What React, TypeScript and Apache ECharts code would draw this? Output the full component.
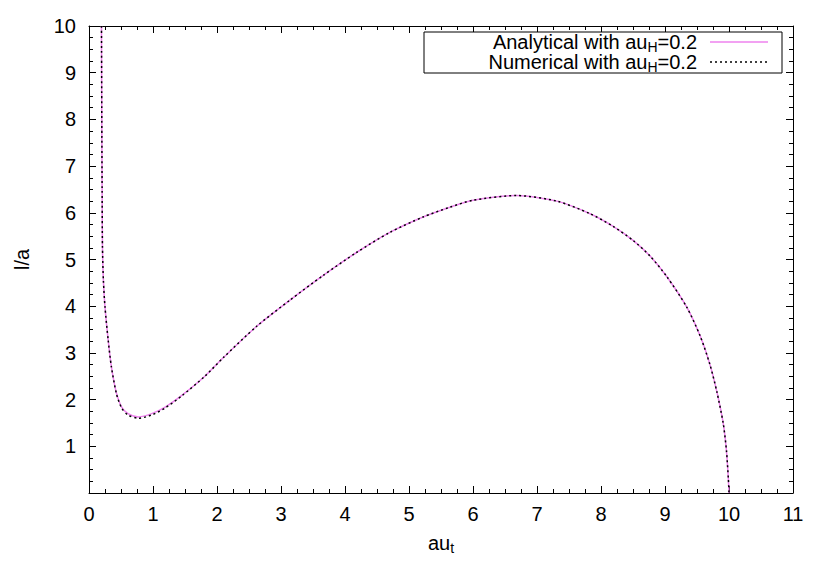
import React, { useEffect, useRef } from "react";
import * as echarts from "echarts";

const xTickLabels = ["0", "1", "2", "3", "4", "5", "6", "7", "8", "9", "10", "11"];
const yTickLabels = ["", "1", "2", "3", "4", "5", "6", "7", "8", "9", "10"];

const analyticalX = [0.195, 0.2, 0.205, 0.21, 0.225, 0.25, 0.3, 0.35, 0.43, 0.51, 0.61, 0.77, 0.98, 1.19, 1.45, 1.81, 2.1, 2.62, 3.14, 3.66, 4.18, 4.7, 5.22, 5.64, 6.0, 6.68, 7.31, 7.83, 8.19, 8.5, 8.77, 9.03, 9.34, 9.55, 9.7, 9.81, 9.91, 9.96, 9.99, 10.0];
const analyticalY = [10.0, 8.0, 6.5, 5.3, 4.55, 3.98, 3.27, 2.7, 2.13, 1.84, 1.7, 1.63, 1.7, 1.84, 2.09, 2.5, 2.9, 3.57, 4.13, 4.66, 5.15, 5.58, 5.91, 6.12, 6.27, 6.37, 6.25, 5.98, 5.71, 5.41, 5.07, 4.63, 3.98, 3.36, 2.76, 2.17, 1.49, 0.91, 0.3, 0.0];

const numericalX = [0.195, 0.2, 0.205, 0.21, 0.225, 0.25, 0.3, 0.35, 0.43, 0.51, 0.61, 0.77, 0.98, 1.19, 1.45, 1.81, 2.1, 2.62, 3.14, 3.66, 4.18, 4.7, 5.22, 5.64, 6.0, 6.68, 7.31, 7.83, 8.19, 8.5, 8.77, 9.03, 9.34, 9.55, 9.7, 9.81, 9.91, 9.96, 9.99, 10.0];
const numericalY = [10.0, 8.0, 6.5, 5.3, 4.55, 3.98, 3.27, 2.7, 2.12, 1.82, 1.67, 1.6, 1.67, 1.82, 2.08, 2.5, 2.9, 3.57, 4.13, 4.66, 5.15, 5.58, 5.91, 6.12, 6.27, 6.37, 6.25, 5.98, 5.71, 5.41, 5.07, 4.63, 3.98, 3.36, 2.76, 2.17, 1.49, 0.91, 0.3, 0.0];

const legendNames = ["Analytical with au{s|H}=0.2", "Numerical with au{s|H}=0.2"];

const FONT = "Liberation Sans, Arial, sans-serif";

export default function App() {
  const ref = useRef<HTMLDivElement>(null);
  useEffect(() => {
    if (!ref.current) return;
    const chart = echarts.init(ref.current, null, { renderer: "svg" });
    const analytical = analyticalX.map((x, i) => [x, analyticalY[i]]);
    const numerical = numericalX.map((x, i) => [x, numericalY[i]]);
    const tickCommon = {
      axisLine: { show: true, onZero: false, lineStyle: { color: "#000", width: 1 } },
      axisTick: { show: true, inside: true, length: 7, lineStyle: { color: "#000" } },
      minorTick: { show: true, splitNumber: 4, length: 4, lineStyle: { color: "#000" } },
      splitLine: { show: false },
    };
    const richText = {
      n: { fontSize: 20, fontFamily: FONT, color: "#000" },
      s: { fontSize: 14, fontFamily: FONT, color: "#000", padding: [10, 0, 0, 0] },
    };
    chart.setOption({
      animation: false,
      backgroundColor: "#fff",
      grid: { left: 89, right: 37, top: 26, bottom: 88 },
      xAxis: [
        {
          type: "value",
          min: 0,
          max: 11,
          interval: 1,
          position: "bottom",
          ...tickCommon,
          axisLabel: {
            color: "#000",
            fontSize: 20,
            fontFamily: FONT,
            margin: 11,
            formatter: (v: number) => xTickLabels[Math.round(v)] ?? "",
          },
          name: "{n|au}{s|t}",
          nameLocation: "middle",
          nameGap: 38,
          nameTextStyle: { rich: richText },
        },
        {
          type: "value",
          min: 0,
          max: 11,
          interval: 1,
          position: "top",
          ...tickCommon,
          axisLabel: { show: false },
        },
      ],
      yAxis: [
        {
          type: "value",
          min: 0,
          max: 10,
          interval: 1,
          position: "left",
          ...tickCommon,
          axisLabel: {
            color: "#000",
            fontSize: 20,
            fontFamily: FONT,
            margin: 13,
            formatter: (v: number) => yTickLabels[Math.round(v)] ?? "",
          },
          name: "l/a",
          nameLocation: "middle",
          nameGap: 57,
          nameRotate: 90,
          nameTextStyle: { color: "#000", fontSize: 20, fontFamily: FONT },
        },
        {
          type: "value",
          min: 0,
          max: 10,
          interval: 1,
          position: "right",
          ...tickCommon,
          axisLabel: { show: false },
        },
      ],
      series: [
        {
          type: "line",
          name: "Analytical",
          data: analytical,
          smooth: 0.25,
          showSymbol: false,
          lineStyle: { color: "#ee82ee", width: 1.5 },
          z: 2,
        },
        {
          type: "line",
          name: "Numerical",
          data: numerical,
          smooth: 0.25,
          showSymbol: false,
          lineStyle: { color: "#000", width: 1.5, type: [2, 3] },
          z: 3,
        },
      ],
      graphic: [
        {
          type: "rect",
          shape: { x: 424, y: 32, width: 358, height: 41 },
          style: { fill: "#fff", stroke: "#000", lineWidth: 1 },
          z: 10,
        },
        {
          type: "text",
          x: 697,
          y: 42,
          z: 11,
          style: {
            text: "{n|" + legendNames[0].replace("{s|H}", "}{s|H}{n|") + "}",
            align: "right",
            verticalAlign: "middle",
            rich: richText,
          },
        },
        {
          type: "text",
          x: 697,
          y: 62,
          z: 11,
          style: {
            text: "{n|" + legendNames[1].replace("{s|H}", "}{s|H}{n|") + "}",
            align: "right",
            verticalAlign: "middle",
            rich: richText,
          },
        },
        {
          type: "line",
          shape: { x1: 710, y1: 42, x2: 768, y2: 42 },
          style: { stroke: "#ee82ee", lineWidth: 1.5 },
          z: 11,
        },
        {
          type: "line",
          shape: { x1: 710, y1: 62, x2: 768, y2: 62 },
          style: { stroke: "#000", lineWidth: 1.5, lineDash: [2, 3] },
          z: 11,
        },
      ],
    });
    return () => chart.dispose();
  }, []);
  return <div ref={ref} style={{ width: 830, height: 581, position: "absolute", left: 0, top: 0 }} />;
}
